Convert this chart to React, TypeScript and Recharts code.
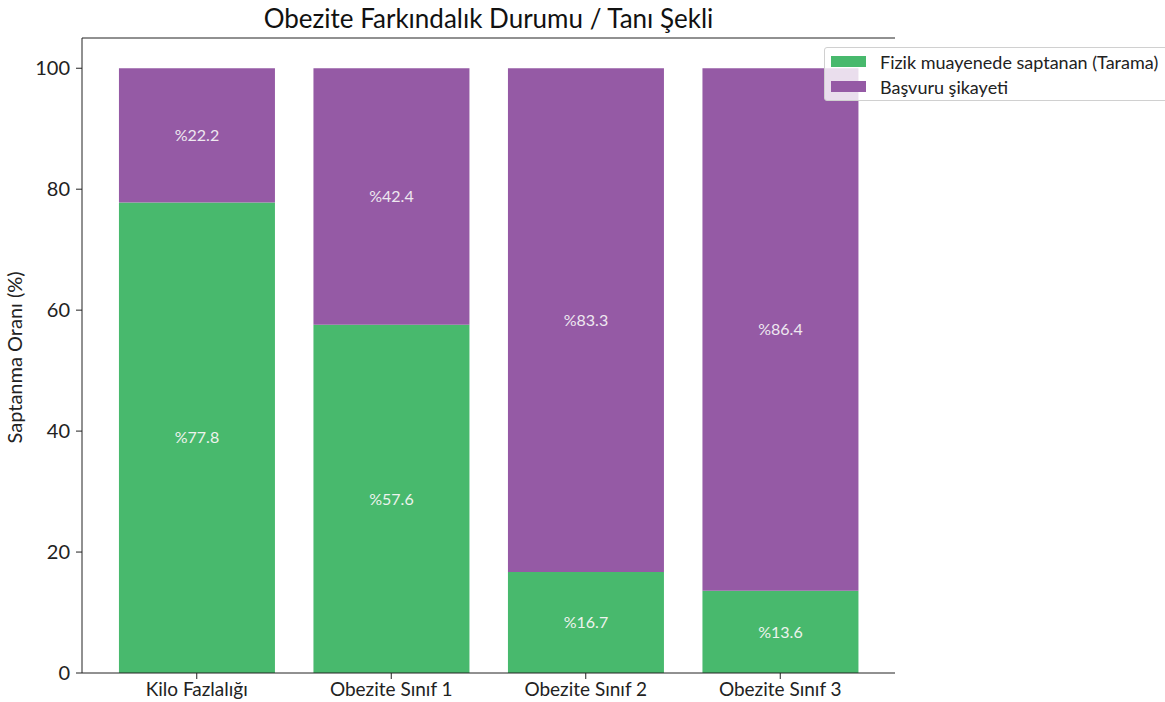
import React from "react";
import { BarChart, Bar, XAxis, YAxis, LabelList, ReferenceLine } from "recharts";

const categories = ["Kilo Fazlalığı", "Obezite Sınıf 1", "Obezite Sınıf 2", "Obezite Sınıf 3"];
const taramaValues = [77.8, 57.6, 16.7, 13.6];
const basvuruValues = [22.2, 42.4, 83.3, 86.4];
const yTicks = [0, 20, 40, 60, 80, 100];

const GREEN = "#48b96d";
const PURPLE = "#955aa5";
const FONT = "Lato, 'Open Sans', sans-serif";

const rows = categories.map((name, i) => ({
  name,
  tarama: taramaValues[i],
  basvuru: basvuruValues[i],
}));

const legendItems = [
  { label: "Fizik muayenede saptanan (Tarama)", color: GREEN },
  { label: "Başvuru şikayeti", color: PURPLE },
];

// legend box sits over the top-right corner of the plot, half transparent
function LegendBox() {
  return (
    <div
      style={{
        position: "absolute",
        left: 824,
        top: 47,
        background: "rgba(255,255,255,0.8)",
        border: "1px solid #d0d0d0",
        borderRadius: 3,
        padding: "1px 20px 1px 6px",
        fontFamily: FONT,
        fontSize: 18,
        color: "#222",
        whiteSpace: "nowrap",
      }}
    >
      {legendItems.map((it) => (
        <div key={it.label} style={{ display: "flex", alignItems: "center", height: 25 }}>
          <span style={{ width: 35, height: 11, background: it.color, marginRight: 14, display: "inline-block" }} />
          {it.label}
        </div>
      ))}
    </div>
  );
}

const pct = (v: any) => `%${v}`;

export default function App() {
  return (
    <div style={{ position: "absolute", left: 0, top: 0, width: 1165, height: 702, background: "#fff", overflow: "hidden" }}>
      <div
        style={{
          position: "absolute",
          left: 82,
          width: 813,
          top: 2,
          textAlign: "center",
          fontFamily: FONT,
          fontSize: 26,
          color: "#111",
        }}
      >
        Obezite Farkındalık Durumu / Tanı Şekli
      </div>
      <BarChart
        width={1165}
        height={702}
        data={rows}
        margin={{ top: 38, right: 270, bottom: 0, left: 0 }}
        barCategoryGap="10%"
      >
        <XAxis
          dataKey="name"
          padding={{ left: 17.5, right: 17.5 }}
          height={29}
          tickLine={{ stroke: "#222" }}
          tickSize={6}
          tickMargin={4}
          axisLine={{ stroke: "#222" }}
          tick={{ fontSize: 19, fill: "#222", fontFamily: FONT }}
        />
        <YAxis
          domain={[0, 105]}
          ticks={yTicks}
          width={82}
          tickSize={6}
          tickMargin={6}
          tickLine={{ stroke: "#222" }}
          axisLine={{ stroke: "#222" }}
          tick={{ fontSize: 20, fill: "#222", fontFamily: FONT }}
          label={{
            value: "Saptanma Oranı (%)",
            angle: -90,
            position: "insideLeft",
            dx: 10,
            dy: 88,
            style: { fontSize: 20, fill: "#222", fontFamily: FONT },
          }}
        />
        <YAxis yAxisId="right" orientation="right" domain={[0, 105]} width={0} tick={false} tickLine={false} axisLine={{ stroke: "#222" }} />
        <ReferenceLine y={105} stroke="#222" strokeWidth={1} />
        <Bar dataKey="tarama" stackId="a" fill={GREEN} isAnimationActive={false}>
          <LabelList dataKey="tarama" position="center" formatter={pct} fill="#eef3ee" fontSize={16} fontFamily={FONT} />
        </Bar>
        <Bar dataKey="basvuru" stackId="a" fill={PURPLE} isAnimationActive={false}>
          <LabelList dataKey="basvuru" position="center" formatter={pct} fill="#eee8f0" fontSize={16} fontFamily={FONT} />
        </Bar>
      </BarChart>
      <LegendBox />
    </div>
  );
}
